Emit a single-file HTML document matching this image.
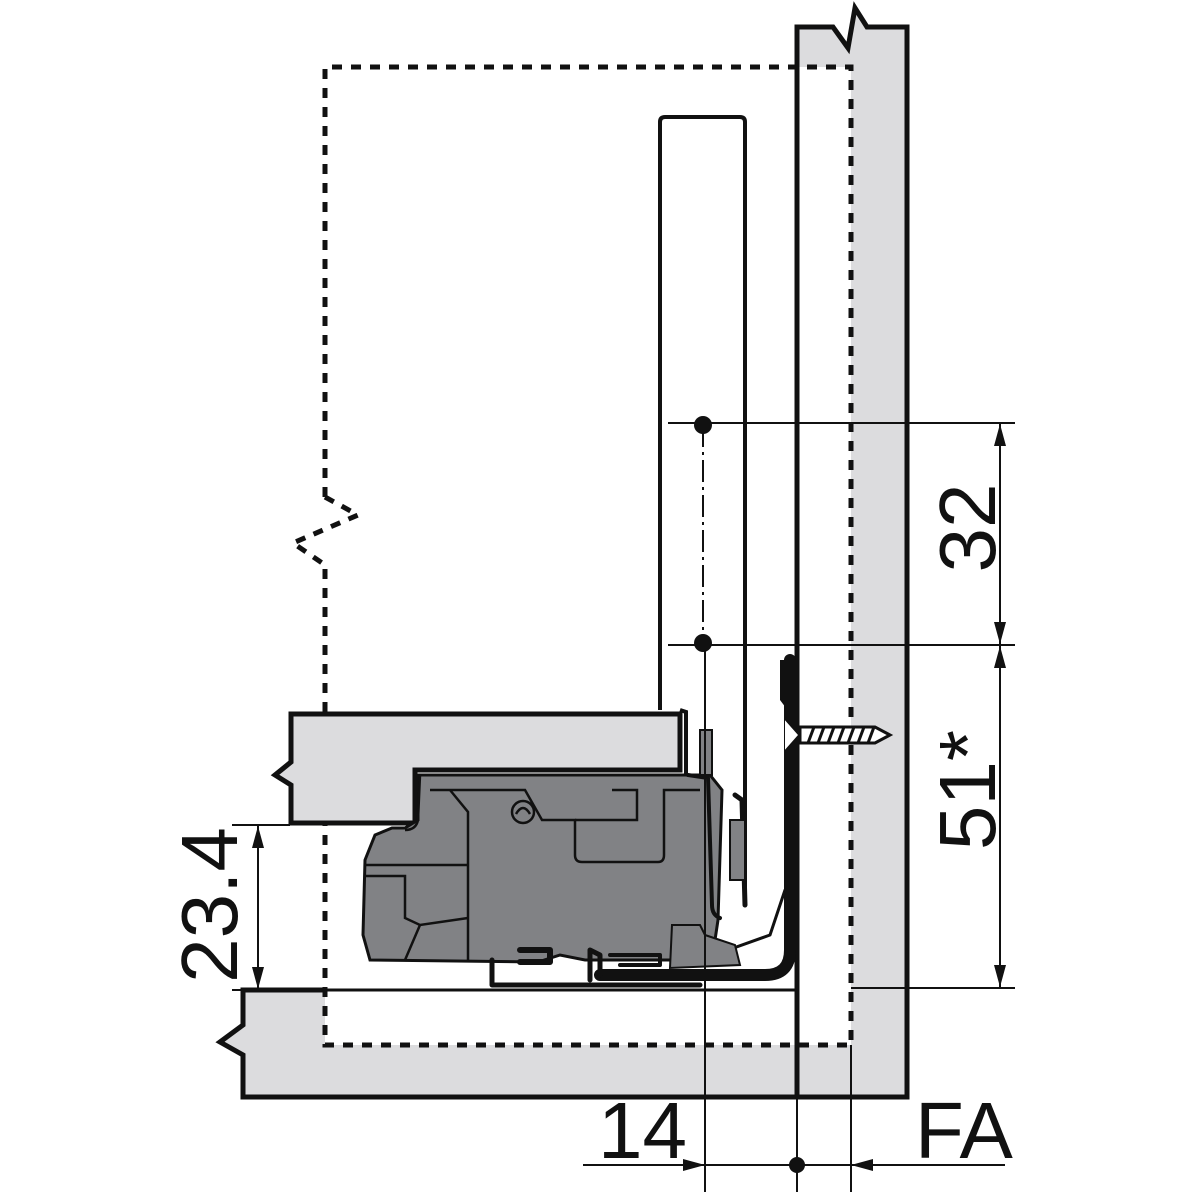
<!DOCTYPE html>
<html><head><meta charset="utf-8"><style>body{margin:0;background:#fff}svg{display:block}</style></head>
<body>
<svg width="1200" height="1200" viewBox="0 0 1200 1200" xmlns="http://www.w3.org/2000/svg">
<defs>
<marker id="a" viewBox="0 0 22 12" refX="22" refY="6" markerWidth="22" markerHeight="12" markerUnits="userSpaceOnUse" orient="auto"><path d="M0,0 L22,6 L0,12z" fill="#111"/></marker>
</defs>
<g fill="#dcdcde" stroke="#111" stroke-width="5" stroke-linejoin="miter">
<path d="M797,1097 L797,27 L833,27 L848,48 L855,8 L867,27 L907,27 L907,1097 Z"/>
<path d="M243,990 L797,990 L797,1097 L243,1097 L243,1055 L220,1042 L243,1025 Z"/>
</g>
<rect x="325" y="67" width="526" height="978" fill="#fff"/>
<line x1="797" y1="67" x2="797" y2="1097" stroke="#111" stroke-width="5"/>
<line x1="325" y1="990" x2="797" y2="990" stroke="#111" stroke-width="3"/>
<g fill="none" stroke="#111" stroke-width="5" stroke-dasharray="10,9">
<path d="M325,497 L325,67 L851,67 L851,1045 L325,1045 L325,568"/>
<path d="M325,497 L358,515 L293,543 L325,565"/>
</g>
<path d="M660,710 L660,122 Q660,117 665,117 L740,117 Q745,117 745,122 L745,905" fill="none" stroke="#111" stroke-width="4"/>
<path d="M291,714 L680,714 L680,770 L415,770 L415,823 L291,823 L291,785 L275,775 L291,762 Z" fill="#dcdcde" stroke="#111" stroke-width="5"/>
<path d="M680,710 L686,712 L686,775" fill="none" stroke="#111" stroke-width="4"/>
<path d="M418,775 L710,775 L722,790 L718,920 L712,960 L585,960 L560,955 L538,962 L370,960 L363,935 L365,860 L375,835 L392,828 L405,828 L418,820 Z" fill="#818285" stroke="#111" stroke-width="3"/>
<g fill="none" stroke="#111" stroke-width="2.5">
<path d="M430,790 L525,790 L542,820 L575,820 L575,855 Q575,862 582,862 L658,862 Q664,862 664,855 L664,790 L700,790"/>
<path d="M612,790 L637,790 L637,820 L575,820"/>
<path d="M450,790 L468,812 L468,960"/>
<path d="M365,865 L468,865"/>
<path d="M365,876 L405,876 L405,918 L420,925 L468,918"/>
<path d="M420,925 L405,960"/>
<circle cx="523" cy="812" r="11"/>
<path d="M516,814 Q523,802 530,814"/>
<path d="M420,775 L418,820 Q416,830 405,830"/>
</g>
<g fill="none" stroke="#111" stroke-linecap="round" stroke-linejoin="round">
<path d="M790,660 L790,950 Q790,975 765,975 L600,975" stroke-width="12"/>
<path d="M600,975 L600,955 L590,950 L590,980" stroke-width="5"/>
<path d="M492,960 L492,985 L700,985" stroke-width="5"/>
<path d="M688,775 L708,778 L712,905 Q712,915 720,918" stroke-width="4"/>
<path d="M745,905 L742,800 L735,795" stroke-width="5"/>
<path d="M785,890 L770,935 L700,960" stroke-width="3"/>
<path d="M610,955 L660,955 L660,965 L620,965" stroke-width="4"/>
<path d="M520,950 L550,950 L550,962 L520,962" stroke-width="6"/>
</g>
<path d="M700,730 L712,730 L712,775 L700,775 Z" fill="#818285" stroke="#111" stroke-width="2"/>
<path d="M730,820 L745,820 L745,880 L730,880 Z" fill="#818285" stroke="#111" stroke-width="2"/>
<path d="M672,925 L700,925 L705,935 L735,945 L740,965 L670,968 Z" fill="#818285" stroke="#111" stroke-width="2"/>
<path d="M780,660 L795,660 L795,720 L780,700 Z" fill="#111"/>
<path d="M785,718 L800,735 L785,752" fill="#fff" stroke="#111" stroke-width="3"/>
<path d="M800,727 L875,727 L890,735 L875,743 L800,743 Z" fill="#fff" stroke="#111" stroke-width="3"/>
<g stroke="#111" stroke-width="3"><line x1="808" y1="743" x2="814" y2="727"/><line x1="818" y1="743" x2="824" y2="727"/><line x1="828" y1="743" x2="834" y2="727"/><line x1="838" y1="743" x2="844" y2="727"/><line x1="848" y1="743" x2="854" y2="727"/><line x1="858" y1="743" x2="864" y2="727"/><line x1="868" y1="743" x2="874" y2="727"/></g>
<g stroke="#111" stroke-width="2" fill="none">
<line x1="668" y1="423" x2="1015" y2="423"/>
<line x1="668" y1="645" x2="1015" y2="645"/>
<line x1="851" y1="988" x2="1015" y2="988"/>
<line x1="703" y1="425" x2="703" y2="643" stroke-dasharray="22,5,3,5"/>
<line x1="705" y1="643" x2="705" y2="1192"/>
<line x1="797" y1="1097" x2="797" y2="1192"/>
<line x1="851" y1="1045" x2="851" y2="1192"/>
<line x1="583" y1="1165" x2="705" y2="1165" marker-end="url(#a)"/>
<line x1="705" y1="1165" x2="851" y2="1165"/>
<line x1="1005" y1="1165" x2="851" y2="1165" marker-end="url(#a)"/>
<line x1="1000" y1="534" x2="1000" y2="424" marker-end="url(#a)"/>
<line x1="1000" y1="534" x2="1000" y2="644" marker-end="url(#a)"/>
<line x1="1000" y1="816" x2="1000" y2="646" marker-end="url(#a)"/>
<line x1="1000" y1="816" x2="1000" y2="987" marker-end="url(#a)"/>
<line x1="232" y1="825" x2="290" y2="825"/>
<line x1="258" y1="907" x2="258" y2="826" marker-end="url(#a)"/>
<line x1="258" y1="907" x2="258" y2="989" marker-end="url(#a)"/>
<line x1="232" y1="990" x2="243" y2="990"/>
</g>
<g fill="#111"><circle cx="703" cy="425" r="9"/><circle cx="703" cy="643" r="9"/><circle cx="797" cy="1165" r="8"/></g>
<g font-family="Liberation Sans, sans-serif" fill="#111" font-size="80">
<text x="598" y="1158">14</text>
<text x="915" y="1158">FA</text>
<text transform="translate(995,528) rotate(-90)" text-anchor="middle">32</text>
<text transform="translate(995,790) rotate(-90)" text-anchor="middle">51*</text>
<text transform="translate(237,905) rotate(-90)" text-anchor="middle">23.4</text>
</g>
</svg>
</body></html>
